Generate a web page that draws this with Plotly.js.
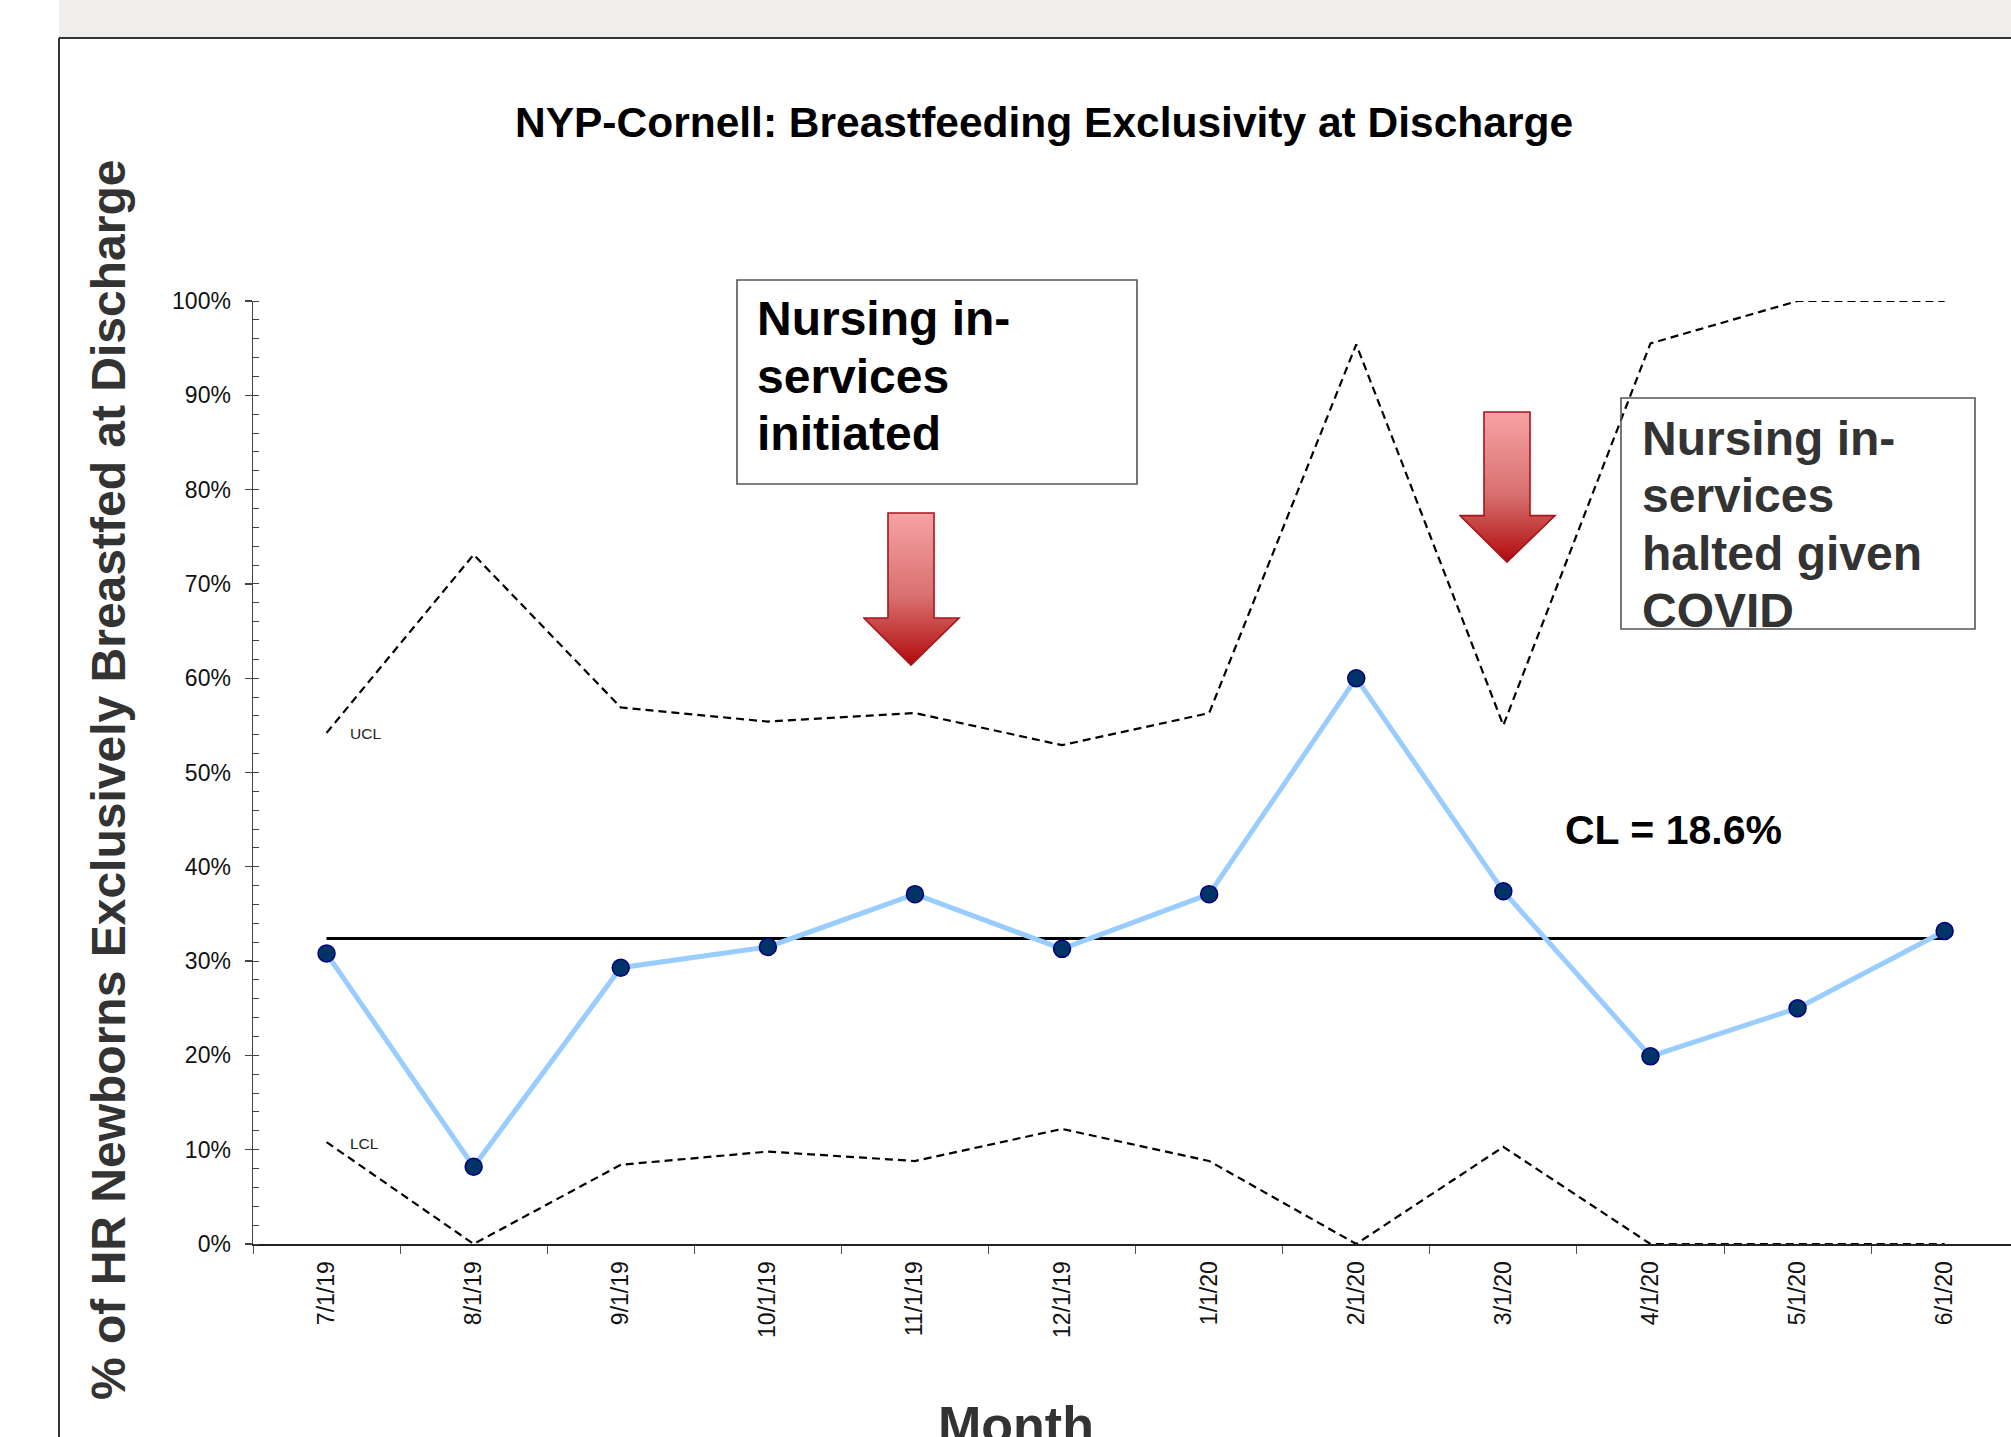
<!DOCTYPE html>
<html>
<head>
<meta charset="utf-8">
<script src="https://cdn.plot.ly/plotly-3.0.1.min.js"></script>
<style>
  html, body { margin: 0; padding: 0; background: #ffffff; }
  #chart { width: 2011px; height: 1437px; }
</style>
</head>
<body>
<div id="chart"></div>
<script>
// ---- data ----
const categories = ['7/1/19','8/1/19','9/1/19','10/1/19','11/1/19','12/1/19','1/1/20','2/1/20','3/1/20','4/1/20','5/1/20','6/1/20'];
const pctExclusive = [0.308, 0.082, 0.293, 0.315, 0.371, 0.313, 0.371, 0.600, 0.374, 0.199, 0.250, 0.332];
const uclValues = [0.542, 0.731, 0.569, 0.554, 0.563, 0.529, 0.563, 0.954, 0.550, 0.955, 1.000, 1.000];
const lclValues = [0.108, 0.000, 0.084, 0.098, 0.088, 0.122, 0.088, 0.000, 0.103, 0.000, 0.000, 0.000];
const clValue = 0.324;
const clLabel = 'CL = 18.6%';
const yTickVals = [0, 0.1, 0.2, 0.3, 0.4, 0.5, 0.6, 0.7, 0.8, 0.9, 1.0];

// ---- page geometry (pixels) ----
const W = 2011, H = 1437;
const L = 253, R = 0, T = 301, B = 193;
const PW = W - L - R, PH = H - T - B;
const px = x => (x - L) / PW;           // pixel x -> paper x
const py = y => (H - B - y) / PH;       // pixel y -> paper y
const FONT = '"Liberation Sans", Arial, Helvetica, sans-serif';

const traces = [
  { x: categories, y: uclValues, type: 'scatter', mode: 'lines', name: 'UCL',
    line: { color: '#000000', width: 2.2, dash: '8px,5px' }, cliponaxis: false, hoverinfo: 'skip' },
  { x: categories, y: lclValues, type: 'scatter', mode: 'lines', name: 'LCL',
    line: { color: '#000000', width: 2.2, dash: '8px,5px' }, cliponaxis: false, hoverinfo: 'skip' },
  { x: categories, y: categories.map(() => clValue), type: 'scatter', mode: 'lines', name: 'CL',
    line: { color: '#000000', width: 3 }, cliponaxis: false, hoverinfo: 'skip' },
  { x: categories, y: pctExclusive, type: 'scatter', mode: 'lines+markers', name: '% exclusive',
    line: { color: '#99ccff', width: 5 },
    marker: { color: '#003366', size: 17, line: { color: '#000080', width: 1.5 } },
    cliponaxis: false }
];

function arrowSvg() {
  const s = "<svg xmlns='http://www.w3.org/2000/svg' width='98' height='156' viewBox='0 0 98 156'>" +
    "<defs><linearGradient id='g' x1='0' y1='0' x2='0' y2='1'>" +
    "<stop offset='0' stop-color='#f7a2a5'/><stop offset='0.55' stop-color='#d8706f'/>" +
    "<stop offset='1' stop-color='#b00a0c'/></linearGradient></defs>" +
    "<path d='M25 1 L71 1 L71 106 L96 106 L48 153 L1 106 L25 106 Z' fill='url(#g)' stroke='#a8141b' stroke-width='1.6'/></svg>";
  return 'data:image/svg+xml;charset=utf-8,' + encodeURIComponent(s);
}

function textLine(txt, x, yc, size, color) {
  return { text: txt, xref: 'paper', yref: 'paper', x: px(x), y: py(yc),
    xanchor: 'left', yanchor: 'middle', showarrow: false,
    font: { family: FONT, size: size, color: color, weight: 'bold' } };
}

const annotations = [
  // y axis title
  { text: '% of HR Newborns Exclusively Breastfed at Discharge', xref: 'paper', yref: 'paper',
    x: px(108), y: py(780), xanchor: 'center', yanchor: 'middle', textangle: -90, showarrow: false,
    font: { family: FONT, size: 48, color: '#333333', weight: 'bold' } },
  // x axis title
  { text: 'Month', xref: 'paper', yref: 'paper', x: px(1016), y: py(1425),
    xanchor: 'center', yanchor: 'middle', showarrow: false,
    font: { family: FONT, size: 52, color: '#333333', weight: 'bold' } },
  // CL label
  { text: clLabel, xref: 'paper', yref: 'paper', x: px(1673), y: py(830),
    xanchor: 'center', yanchor: 'middle', showarrow: false,
    font: { family: FONT, size: 41, color: '#000000', weight: 'bold' } },
  // UCL / LCL labels
  { text: 'UCL', xref: 'paper', yref: 'paper', x: px(348), y: py(733), xanchor: 'left', yanchor: 'middle',
    showarrow: false, font: { family: FONT, size: 15.5, color: '#222222' } },
  { text: 'LCL', xref: 'paper', yref: 'paper', x: px(348), y: py(1143), xanchor: 'left', yanchor: 'middle',
    showarrow: false, font: { family: FONT, size: 15.5, color: '#222222' } },
  // box 1 text
  textLine('Nursing in-', 755, 319, 48, '#000000'),
  textLine('services', 755, 376, 48, '#000000'),
  textLine('initiated', 755, 433, 48, '#000000'),
  // box 2 text
  textLine('Nursing in-', 1640, 438, 48, '#333333'),
  textLine('services', 1640, 495, 48, '#333333'),
  textLine('halted given', 1640, 553, 48, '#333333'),
  textLine('COVID', 1640, 610, 48, '#333333')
];

const shapes = [
  // grey band at the top
  { type: 'rect', xref: 'paper', yref: 'paper', x0: px(59), x1: px(W + 5), y0: py(0 - 5), y1: py(38),
    fillcolor: '#efeeec', line: { width: 0 }, layer: 'below' },
  // frame lines
  { type: 'line', xref: 'paper', yref: 'paper', x0: px(59), x1: px(W + 5), y0: py(38), y1: py(38),
    line: { color: '#333333', width: 2 } },
  { type: 'line', xref: 'paper', yref: 'paper', x0: px(59), x1: px(59), y0: py(38), y1: py(H + 5),
    line: { color: '#333333', width: 2 } },
  // annotation boxes
  { type: 'rect', xref: 'paper', yref: 'paper', x0: px(737), x1: px(1137), y0: py(280), y1: py(484),
    line: { color: '#555555', width: 1.6 }, fillcolor: 'rgba(0,0,0,0)' },
  { type: 'rect', xref: 'paper', yref: 'paper', x0: px(1621), x1: px(1975), y0: py(398), y1: py(629),
    line: { color: '#555555', width: 1.6 }, fillcolor: 'rgba(0,0,0,0)' }
];

const images = [
  { source: arrowSvg(), xref: 'paper', yref: 'paper', x: px(863), y: py(512),
    sizex: 98 / PW, sizey: 156 / PH, xanchor: 'left', yanchor: 'top', sizing: 'stretch', layer: 'above' },
  { source: arrowSvg(), xref: 'paper', yref: 'paper', x: px(1459), y: py(411),
    sizex: 98 / PW, sizey: 154 / PH, xanchor: 'left', yanchor: 'top', sizing: 'stretch', layer: 'above' }
];

const layout = {
  width: W, height: H,
  margin: { l: L, r: R, t: T, b: B, pad: 0 },
  paper_bgcolor: '#ffffff', plot_bgcolor: 'rgba(0,0,0,0)',
  showlegend: false,
  font: { family: FONT, color: '#111111' },
  title: { text: 'NYP-Cornell: Breastfeeding Exclusivity at Discharge',
    font: { family: FONT, size: 42.5, color: '#000000', weight: 'bold' },
    xref: 'paper', x: px(1044), xanchor: 'center', yref: 'container', y: 1 - 122 / H, yanchor: 'middle' },
  xaxis: {
    type: 'category', categoryorder: 'array', categoryarray: categories,
    range: [-0.5, -0.5 + PW / 147.1],
    showgrid: false, zeroline: false,
    showline: true, linecolor: '#222222', linewidth: 2,
    ticks: 'outside', tickson: 'boundaries', ticklen: 8, tickcolor: '#555555', tickwidth: 1,
    tickangle: -90, ticklabelstandoff: 6,
    tickfont: { family: FONT, size: 23, color: '#111111' }
  },
  yaxis: {
    range: [0, 1], showgrid: false, zeroline: false,
    showline: true, linecolor: '#444444', linewidth: 1.5,
    tickmode: 'array', tickvals: yTickVals, tickformat: '.0%',
    ticks: 'outside', ticklen: 7, tickcolor: '#444444', tickwidth: 1.2,
    ticklabelstandoff: 9,
    tickfont: { family: FONT, size: 23, color: '#111111' },
    minor: { dtick: 0.02, ticks: 'inside', ticklen: 6, tickcolor: '#444444', tickwidth: 1 }
  },
  yaxis2: {
    overlaying: 'y', anchor: 'x', side: 'left', range: [0, 1], showgrid: false, zeroline: false,
    showline: false, showticklabels: false, tickmode: 'array', tickvals: yTickVals,
    ticks: 'inside', ticklen: 6, tickcolor: '#444444', tickwidth: 1.2
  },
  annotations: annotations,
  shapes: shapes,
  images: images
};

Plotly.newPlot('chart', traces, layout, { staticPlot: true, displayModeBar: false });
</script>
</body>
</html>
